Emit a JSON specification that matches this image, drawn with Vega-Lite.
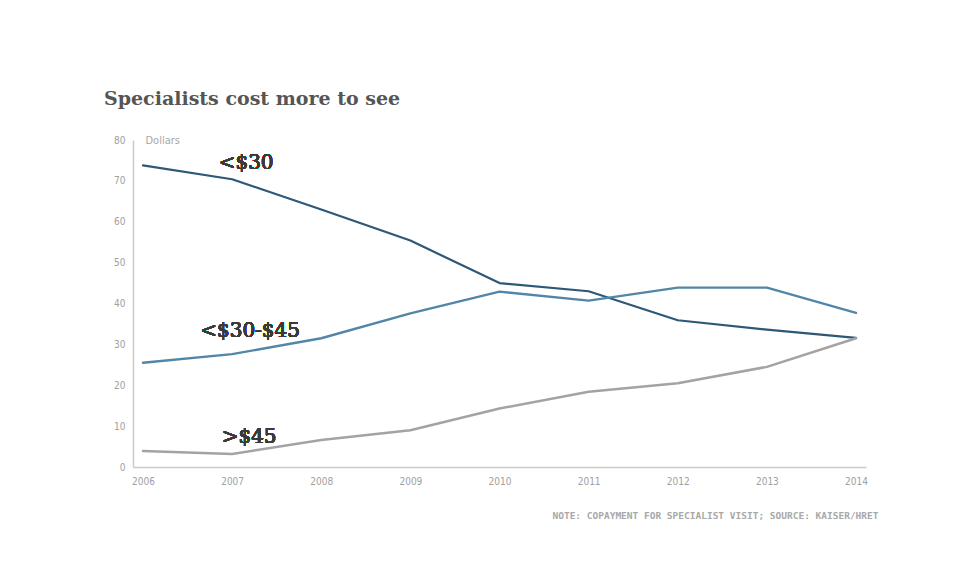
{
  "$schema": "https://vega.github.io/schema/vega-lite/v6.json",
  "autosize": "none",
  "width": 733,
  "height": 327,
  "padding": {"left": 133, "top": 140, "right": 98, "bottom": 110},
  "background": "#ffffff",
  "title": {
    "text": "Specialists cost more to see",
    "anchor": "start",
    "frame": "group",
    "dx": -29,
    "offset": 25,
    "font": "DejaVu Serif",
    "fontSize": 19,
    "fontWeight": "bold",
    "color": "#555555"
  },
  "config": {
    "view": {"stroke": null},
    "axis": {"grid": false, "ticks": false, "domainColor": "#cccccc", "domainWidth": 1.5, "labelColor": "#a0a0a0", "labelFont": "DejaVu Sans Condensed", "labelFontSize": 10}
  },
  "data": {
    "values": [
      {"year": 2006, "series": "<$30", "value": 73.8},
      {"year": 2007, "series": "<$30", "value": 70.4},
      {"year": 2008, "series": "<$30", "value": 63.0},
      {"year": 2009, "series": "<$30", "value": 55.4},
      {"year": 2010, "series": "<$30", "value": 45.0},
      {"year": 2011, "series": "<$30", "value": 43.0},
      {"year": 2012, "series": "<$30", "value": 35.9},
      {"year": 2013, "series": "<$30", "value": 33.6},
      {"year": 2014, "series": "<$30", "value": 31.6},
      {"year": 2006, "series": "<$30-$45", "value": 25.5},
      {"year": 2007, "series": "<$30-$45", "value": 27.6},
      {"year": 2008, "series": "<$30-$45", "value": 31.5},
      {"year": 2009, "series": "<$30-$45", "value": 37.6},
      {"year": 2010, "series": "<$30-$45", "value": 42.9},
      {"year": 2011, "series": "<$30-$45", "value": 40.7},
      {"year": 2012, "series": "<$30-$45", "value": 43.9},
      {"year": 2013, "series": "<$30-$45", "value": 43.9},
      {"year": 2014, "series": "<$30-$45", "value": 37.7},
      {"year": 2006, "series": ">$45", "value": 3.9},
      {"year": 2007, "series": ">$45", "value": 3.2},
      {"year": 2008, "series": ">$45", "value": 6.6},
      {"year": 2009, "series": ">$45", "value": 9.0},
      {"year": 2010, "series": ">$45", "value": 14.3},
      {"year": 2011, "series": ">$45", "value": 18.4},
      {"year": 2012, "series": ">$45", "value": 20.5},
      {"year": 2013, "series": ">$45", "value": 24.5},
      {"year": 2014, "series": ">$45", "value": 31.5}
    ]
  },
  "layer": [
    {
      "mark": {"type": "line", "strokeCap": "round", "strokeJoin": "round"},
      "encoding": {
        "x": {
          "field": "year", "type": "ordinal",
          "scale": {"type": "point", "padding": 0.112},
          "axis": {
            "labelAngle": 0, "labelPadding": 9,
            "title": "NOTE: COPAYMENT FOR SPECIALIST VISIT; SOURCE: KAISER/HRET",
            "titleX": 745, "titleY": 48, "titleAlign": "right", "titleAnchor": null, "titleBaseline": "middle",
            "titleFont": "DejaVu Sans Mono", "titleFontSize": 9.5, "titleFontWeight": "bold", "titleColor": "#a8a8a8"
          }
        },
        "y": {
          "field": "value", "type": "quantitative",
          "scale": {"domain": [0, 80]},
          "axis": {
            "values": [0, 10, 20, 30, 40, 50, 60, 70, 80], "labelPadding": 8,
            "title": "Dollars", "titleAngle": 0, "titleX": 12, "titleY": 0, "titleAlign": "left", "titleBaseline": "middle",
            "titleFont": "DejaVu Sans Condensed", "titleFontSize": 11, "titleFontWeight": "normal", "titleColor": "#a8a8a8"
          }
        },
        "color": {
          "field": "series", "type": "nominal",
          "scale": {"domain": [">$45", "<$30-$45", "<$30"], "range": ["#a3a3a3", "#5286a9", "#2d5878"]},
          "legend": null
        },
        "strokeWidth": {
          "field": "series", "type": "nominal",
          "scale": {"domain": [">$45", "<$30-$45", "<$30"], "range": [2.5, 2.2, 3]},
          "legend": null
        },
        "order": {"field": "year", "type": "ordinal"}
      }
    },
    {
      "mark": {"type": "text", "font": "DejaVu Serif", "fontSize": 20, "fill": "#3a3a3a", "dx": 14, "baseline": "middle"},
      "encoding": {"x": {"datum": 2007, "type": "ordinal"}, "y": {"datum": 74.4}, "text": {"value": "<$30"}}
    },
    {
      "mark": {"type": "text", "font": "DejaVu Serif", "fontSize": 20, "fill": "#3a3a3a", "dx": 18, "baseline": "middle"},
      "encoding": {"x": {"datum": 2007, "type": "ordinal"}, "y": {"datum": 33.3}, "text": {"value": "<$30-$45"}}
    },
    {
      "mark": {"type": "text", "font": "DejaVu Serif", "fontSize": 20, "fill": "#3a3a3a", "dx": 17, "baseline": "middle"},
      "encoding": {"x": {"datum": 2007, "type": "ordinal"}, "y": {"datum": 7.3}, "text": {"value": ">$45"}}
    }
  ]
}
